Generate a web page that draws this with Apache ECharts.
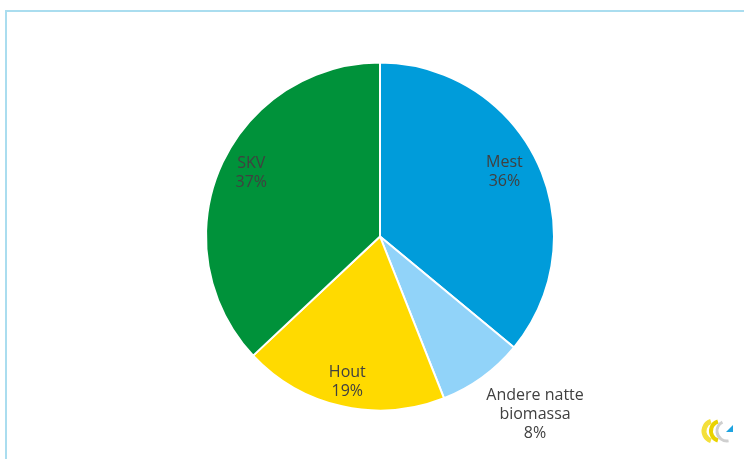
<!DOCTYPE html>
<html>
<head>
<meta charset="utf-8">
<script src="https://cdn.jsdelivr.net/npm/echarts@6/dist/echarts.min.js"></script>
<style>
html,body{margin:0;padding:0;background:#fff;}
#c{width:744px;height:459px;}
</style>
</head>
<body>
<div id="c"></div>
<script>
const categories = ['Mest', 'Andere natte\nbiomassa', 'Hout', 'SKV'];
const values = [36, 8, 19, 37];
const colors = ['#009CDA', '#91D3F9', '#FFDA00', '#00923A'];
const labelShift = [[-5, -4], [71, 62], [-1.5, 6], [2.5, -7]];

const chart = echarts.init(document.getElementById('c'));
const data = categories.map((n, i) => ({ name: n, value: values[i], itemStyle: { color: colors[i] } }));
const overlayData = categories.map((n, i) => ({ name: n, value: values[i] }));

chart.setOption({
  animation: false,
  backgroundColor: '#ffffff',
  graphic: [
    { type: 'line', shape: { x1: 5, y1: 11, x2: 744, y2: 11 }, style: { stroke: '#AADDEF', lineWidth: 2 } },
    { type: 'line', shape: { x1: 6, y1: 10, x2: 6, y2: 459 }, style: { stroke: '#AADDEF', lineWidth: 2 } },
    { type: 'arc', shape: { cx: 714, cy: 431, r: 10, startAngle: Math.PI * 0.6, endAngle: Math.PI * 1.4 }, style: { stroke: '#F4E03A', lineWidth: 5, fill: null } },
    { type: 'arc', shape: { cx: 721, cy: 431, r: 10, startAngle: Math.PI * 0.6, endAngle: Math.PI * 1.4 }, style: { stroke: '#E9D200', lineWidth: 4, fill: null } },
    { type: 'arc', shape: { cx: 727, cy: 431, r: 10, startAngle: Math.PI * 0.45, endAngle: Math.PI * 1.35 }, style: { stroke: '#CFCFCF', lineWidth: 3, fill: null } },
    { type: 'polygon', shape: { points: [[726, 432], [733, 425], [733, 432]] }, style: { fill: '#1FA3E0' } }
  ],
  series: [
    {
      type: 'pie',
      center: [380, 236.5],
      radius: [0, 174],
      startAngle: 90,
      clockwise: true,
      label: { show: false },
      labelLine: { show: false },
      itemStyle: { borderColor: '#ffffff', borderWidth: 2 },
      emphasis: { disabled: true },
      data: data
    },
    {
      type: 'pie',
      center: [380, 236.5],
      radius: [106, 174],
      startAngle: 90,
      clockwise: true,
      silent: true,
      itemStyle: { color: 'rgba(0,0,0,0)', borderWidth: 0 },
      labelLine: { show: false },
      label: {
        show: true,
        position: 'inside',
        formatter: '{b}\n{c}%',
        fontFamily: 'Open Sans',
        fontSize: 16,
        lineHeight: 19,
        color: '#404040',
        align: 'center'
      },
      labelLayout: function (p) {
        const s = labelShift[p.dataIndex];
        return { dx: s[0], dy: s[1] };
      },
      emphasis: { disabled: true },
      data: overlayData
    }
  ]
});
</script>
</body>
</html>
